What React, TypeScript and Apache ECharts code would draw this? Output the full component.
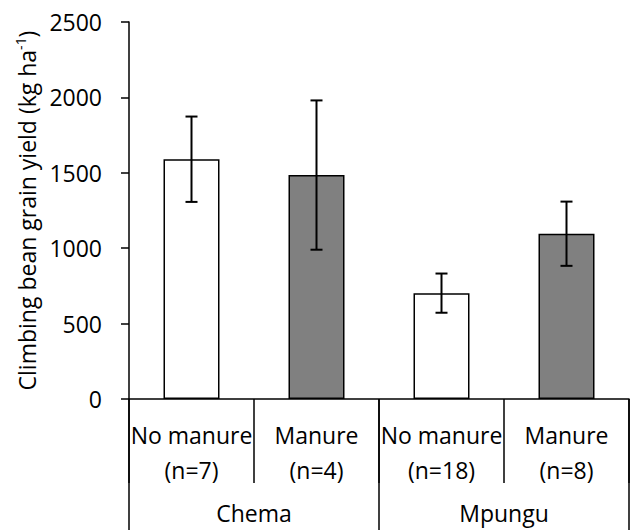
import React, { useEffect, useRef } from "react";
import * as echarts from "echarts";

// Treatments (first axis level) and their sites (second axis level)
const treatments = ["No manure\n(n=7)", "Manure\n(n=4)", "No manure\n(n=18)", "Manure\n(n=8)"];
const sites = ["Chema", "Mpungu"];
// Mean climbing bean grain yield (kg/ha) and its error
const meanYield = [1590, 1485, 702, 1096];
const yieldError = [283, 495, 130, 213];
// Bar fill per treatment: no manure white, manure grey
const barFills = ["#ffffff", "#808080", "#ffffff", "#808080"];
const yTicks = { min: 0, max: 2500, interval: 500 };

const FONT = "'Open Sans', 'Noto Sans', sans-serif";
const FS = 23;

export default function App() {
  const ref = useRef<HTMLDivElement>(null);

  useEffect(() => {
    if (!ref.current) return;
    const chart = echarts.init(ref.current, undefined, { renderer: "svg" });

    const errorData = meanYield.map((m, i) => [i, m - yieldError[i], m + yieldError[i]]);

    chart.setOption({
      animation: false,
      grid: { left: 129, right: 5, top: 22, bottom: 131, containLabel: false },
      xAxis: [
        {
          type: "category",
          data: treatments,
          position: "bottom",
          axisLine: { lineStyle: { color: "#000", width: 1.5 } },
          axisTick: { show: true, length: 84, lineStyle: { color: "#000", width: 1.5 } },
          axisLabel: {
            color: "#000",
            fontFamily: FONT,
            fontSize: FS,
            lineHeight: 35,
            margin: 18,
            interval: 0,
          },
        },
        {
          type: "category",
          data: sites,
          position: "bottom",
          axisLine: { show: false },
          axisTick: { show: true, length: 131, lineStyle: { color: "#000", width: 1.5 } },
          axisLabel: {
            color: "#000",
            fontFamily: FONT,
            fontSize: FS,
            margin: 102,
            interval: 0,
          },
        },
      ],
      yAxis: {
        type: "value",
        min: yTicks.min,
        max: yTicks.max,
        interval: yTicks.interval,
        splitLine: { show: false },
        axisLine: { show: true, lineStyle: { color: "#000", width: 1.5 } },
        axisTick: { show: true, length: 8, lineStyle: { color: "#000", width: 1.5 } },
        axisLabel: {
          color: "#000",
          fontFamily: FONT,
          fontSize: FS,
          margin: 27,
          formatter: (v: number) => String(v),
        },
        name: "{a|Climbing bean grain yield (kg ha}{s|-1}{a|)}",
        nameLocation: "middle",
        nameGap: 86,
        nameRotate: 90,
        nameTextStyle: {
          rich: {
            a: { fontFamily: FONT, fontSize: FS, color: "#000", lineHeight: 27 },
            s: { fontFamily: FONT, fontSize: 14, color: "#000", verticalAlign: "top", lineHeight: 14 },
          },
        },
      },
      series: [
        {
          type: "bar",
          xAxisIndex: 0,
          barWidth: 56,
          data: meanYield.map((v, i) => ({
            value: v,
            itemStyle: { color: barFills[i], borderColor: "#000", borderWidth: 1.5 },
          })),
        },
        {
          type: "custom",
          xAxisIndex: 0,
          data: errorData,
          z: 10,
          renderItem: (params: any, api: any) => {
            const x = api.value(0);
            const lo = api.coord([x, api.value(1)]);
            const hi = api.coord([x, api.value(2)]);
            const half = 6;
            const style = { stroke: "#000", lineWidth: 2 };
            return {
              type: "group",
              children: [
                { type: "line", shape: { x1: hi[0], y1: hi[1], x2: lo[0], y2: lo[1] }, style },
                { type: "line", shape: { x1: hi[0] - half, y1: hi[1], x2: hi[0] + half, y2: hi[1] }, style },
                { type: "line", shape: { x1: lo[0] - half, y1: lo[1], x2: lo[0] + half, y2: lo[1] }, style },
              ],
            };
          },
        },
      ],
    });

    return () => chart.dispose();
  }, []);

  return <div ref={ref} style={{ width: 634, height: 530, position: "absolute", left: 0, top: 0 }} />;
}
